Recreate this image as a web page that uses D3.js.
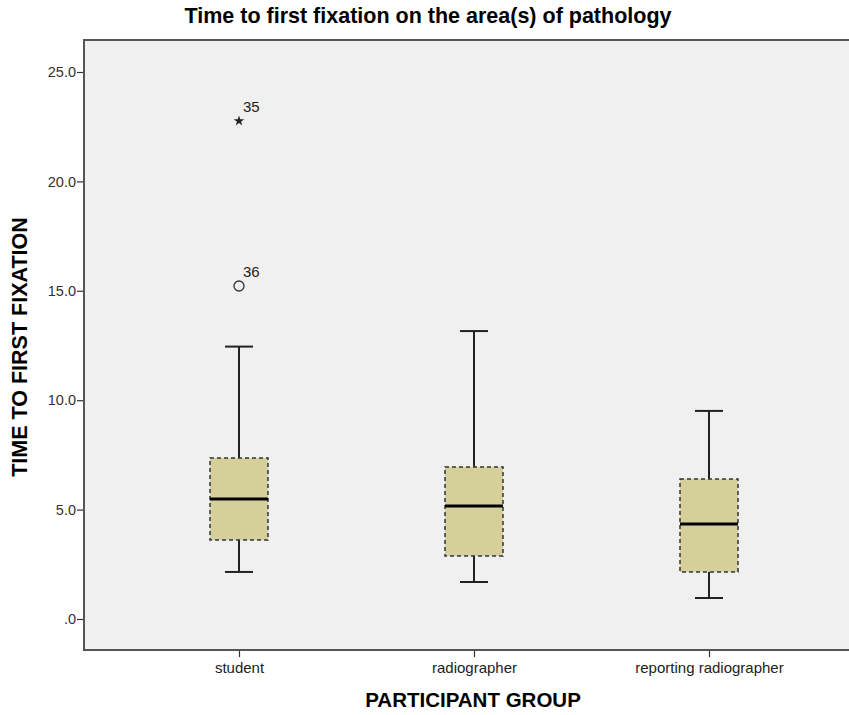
<!DOCTYPE html>
<html><head><meta charset="utf-8">
<script src="https://cdn.jsdelivr.net/npm/d3@7"></script>
<style>body{margin:0;background:#fff}svg{display:block}text{font-family:"Liberation Sans",Arial,sans-serif}</style>
</head><body><svg id="c" width="849" height="715"></svg>
<script>
const categories = ["student", "radiographer", "reporting radiographer"];
const whiskerLow  = [2.15, 1.69, 0.96];
const q1          = [3.61, 2.88, 2.15];
const median      = [5.48, 5.16, 4.34];
const q3          = [7.36, 6.95, 6.40];
const whiskerHigh = [12.45, 13.16, 9.51];
const outlierGroup = ["student", "student"];
const outlierValue = [22.76, 15.22];
const outlierLabel = ["35", "36"];
const outlierType  = ["extreme", "mild"];
const yTicks = [0, 5, 10, 15, 20, 25];

const svg = d3.select("#c");
const L = 84, T = 40, R = 864, B = 650;
const y = d3.scaleLinear().domain([0, 25]).range([619, 72]);
const x = d3.scalePoint().domain(categories).range([239, 709]);

svg.append("rect").attr("x", L).attr("y", T).attr("width", R - L).attr("height", B - T).attr("fill", "#f0f0f0");
svg.append("path").attr("d", `M${R},${T}H${L}V${B}H${R}`).attr("fill", "none").attr("stroke", "#555").attr("stroke-width", 2);

const yAxis = svg.append("g").attr("transform", `translate(${L-1},0)`)
  .call(d3.axisLeft(y).tickValues(yTicks).tickSize(6).tickFormat(d => d === 0 ? ".0" : d3.format(".1f")(d)));
yAxis.select(".domain").remove();
yAxis.selectAll("line").attr("stroke", "#333").attr("stroke-width", 1.2);
yAxis.selectAll("text").attr("font-size", 14.5).attr("fill", "#333").attr("x", -7);

const xAxis = svg.append("g").attr("transform", `translate(0,${B+1})`)
  .call(d3.axisBottom(x).tickSize(6));
xAxis.select(".domain").remove();
xAxis.selectAll("line").attr("stroke", "#333").attr("stroke-width", 1.2);
xAxis.selectAll("text").attr("font-size", 15).attr("fill", "#222").attr("y", 11);

const bw = 58, cw = 28;
const g = svg.append("g");
categories.forEach((c, i) => {
  const cx = x(c);
  g.append("line").attr("x1", cx).attr("x2", cx).attr("y1", y(whiskerHigh[i])).attr("y2", y(q3[i])).attr("stroke", "#222").attr("stroke-width", 2);
  g.append("line").attr("x1", cx).attr("x2", cx).attr("y1", y(q1[i])).attr("y2", y(whiskerLow[i])).attr("stroke", "#222").attr("stroke-width", 2);
  g.append("line").attr("x1", cx - cw/2).attr("x2", cx + cw/2).attr("y1", y(whiskerHigh[i])).attr("y2", y(whiskerHigh[i])).attr("stroke", "#222").attr("stroke-width", 2);
  g.append("line").attr("x1", cx - cw/2).attr("x2", cx + cw/2).attr("y1", y(whiskerLow[i])).attr("y2", y(whiskerLow[i])).attr("stroke", "#222").attr("stroke-width", 2);
  g.append("rect").attr("x", cx - bw/2).attr("y", y(q3[i])).attr("width", bw).attr("height", y(q1[i]) - y(q3[i]))
    .attr("fill", "#d4cf9b").attr("stroke", "#333").attr("stroke-width", 1.5).attr("stroke-dasharray", "4,3");
  g.append("line").attr("x1", cx - bw/2).attr("x2", cx + bw/2).attr("y1", y(median[i])).attr("y2", y(median[i])).attr("stroke", "#000").attr("stroke-width", 3);
});

outlierValue.forEach((v, i) => {
  const cx = x(outlierGroup[i]), cy = y(v);
  if (outlierType[i] === "mild") {
    g.append("circle").attr("cx", cx).attr("cy", cy).attr("r", 5).attr("fill", "none").attr("stroke", "#333").attr("stroke-width", 1.3);
  } else {
    g.append("path").attr("transform", `translate(${cx},${cy})`)
      .attr("d", d3.symbol().type(d3.symbolStar).size(34)).attr("fill", "#222");
  }
  g.append("text").attr("x", cx + 4).attr("y", cy - 9).attr("font-size", 15).attr("fill", "#222").text(outlierLabel[i]);
});

svg.append("text").attr("x", 428).attr("y", 23).attr("text-anchor", "middle").attr("font-size", 21.5).attr("font-weight", "bold")
  .text("Time to first fixation on the area(s) of pathology");
svg.append("text").attr("transform", "translate(27,347) rotate(-90)").attr("text-anchor", "middle").attr("font-size", 21.5).attr("font-weight", "bold")
  .text("TIME TO FIRST FIXATION");
svg.append("text").attr("x", 473).attr("y", 707).attr("text-anchor", "middle").attr("font-size", 20.5).attr("font-weight", "bold")
  .text("PARTICIPANT GROUP");
</script></body></html>
